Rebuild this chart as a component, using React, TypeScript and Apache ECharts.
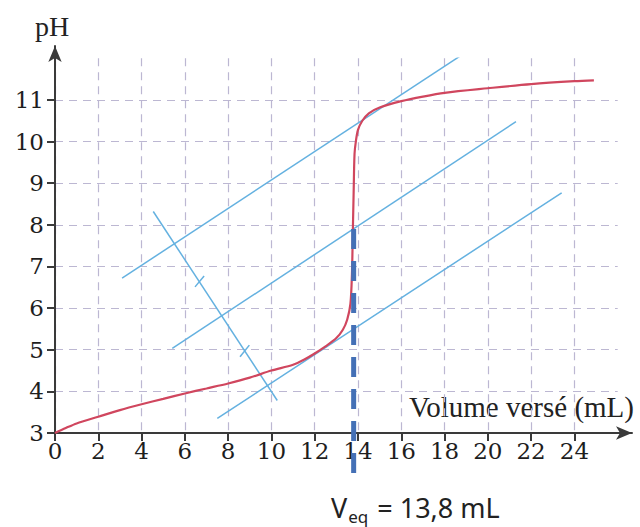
import React, { useEffect, useRef } from 'react';
import * as echarts from 'echarts';

// Titration curve (volume in mL, pH)
const volume = [0, 0.5, 1, 2, 3, 4, 5, 6, 7, 8, 9, 10, 11, 11.5, 12, 12.5, 13, 13.3, 13.5, 13.65, 13.72, 13.76, 13.8, 13.84, 13.9, 14.0, 14.2, 14.5, 15, 16, 17, 18, 20, 22, 24, 24.9];
const ph = [3.0, 3.12, 3.23, 3.39, 3.55, 3.69, 3.82, 3.95, 4.07, 4.19, 4.33, 4.5, 4.64, 4.76, 4.91, 5.08, 5.28, 5.48, 5.72, 6.1, 6.8, 7.8, 8.8, 9.7, 10.0, 10.28, 10.5, 10.68, 10.82, 10.97, 11.08, 11.17, 11.28, 11.38, 11.45, 11.47];

// Parallel tangents method
const tangentTop = [[3.1, 6.72], [19.0, 12.15]];
const tangentMiddle = [[5.42, 5.03], [21.3, 10.48]];
const tangentBottom = [[7.5, 3.35], [23.41, 8.77]];
const perpendicular = [[4.54, 8.32], [10.27, 3.78]];
const midMarkUpper = [[6.47, 6.51], [6.89, 6.77]];
const midMarkLower = [[8.55, 4.83], [8.98, 5.11]];

// Equivalence
const vEq = 13.8;
const eqLine = [[vEq, 7.9], [vEq, 1.8]];

const xTicks = [0, 2, 4, 6, 8, 10, 12, 14, 16, 18, 20, 22, 24];
const yTicks = [3, 4, 5, 6, 7, 8, 9, 10, 11];

const SERIF = 'Liberation Serif, DejaVu Serif, serif';
const TICK_FONT = 'DejaVu Serif, serif';
const SANS = 'Noto Sans, sans-serif';
const AXIS = '#3a3a3a';
const GRID = '#bcb7d2';
const BLUE = '#64b1e0';

export default function App() {
  const ref = useRef<HTMLDivElement>(null);

  useEffect(() => {
    document.body.style.margin = '0';
    const chart = echarts.init(ref.current!, null, { renderer: 'svg' });
    const curve = volume.map((v, i) => [v, ph[i]]);
    const blueLine = (name: string, data: number[][]) => ({
      name,
      type: 'line',
      xAxisIndex: 0,
      yAxisIndex: 0,
      data,
      showSymbol: false,
      symbol: 'none',
      lineStyle: { color: BLUE, width: 1.5 },
      z: 3,
    });
    const tickLabel = { fontFamily: TICK_FONT, fontSize: 23, color: '#1e1e1e' };
    chart.setOption({
      animation: false,
      grid: [
        { left: 55, right: 22.3, top: 58.3, bottom: 94 },
        { left: 55, right: 8, top: 46, bottom: 94 },
      ],
      xAxis: [
        {
          type: 'value',
          gridIndex: 0,
          min: 0,
          max: 26,
          interval: 2,
          axisLine: { show: false },
          axisTick: { show: true, customValues: xTicks, length: 8, lineStyle: { color: AXIS, width: 2 } },
          axisLabel: {
            ...tickLabel,
            margin: 6,
            formatter: (v: number) => (xTicks.includes(v) ? String(v) : ''),
          },
          splitLine: { show: true, lineStyle: { color: GRID, type: [8, 6], width: 1.2 } },
        },
        {
          type: 'value',
          gridIndex: 1,
          min: 0,
          max: 1,
          axisLine: { show: true, symbol: ['none', 'arrow'], symbolSize: [10, 16], lineStyle: { color: AXIS, width: 2 } },
          axisTick: { show: false },
          axisLabel: { show: false },
          splitLine: { show: false },
        },
      ],
      yAxis: [
        {
          type: 'value',
          gridIndex: 0,
          min: 3,
          max: 12,
          interval: 1,
          axisLine: { show: false },
          axisTick: { show: true, customValues: yTicks, length: 8, lineStyle: { color: AXIS, width: 2 } },
          axisLabel: {
            ...tickLabel,
            margin: 11,
            formatter: (v: number) => (yTicks.includes(v) ? String(v) : ''),
          },
          splitLine: { show: true, lineStyle: { color: GRID, type: [8, 6], width: 1.2 } },
        },
        {
          type: 'value',
          gridIndex: 1,
          min: 0,
          max: 1,
          axisLine: { show: true, symbol: ['none', 'arrow'], symbolSize: [10, 16], lineStyle: { color: AXIS, width: 2 } },
          axisTick: { show: false },
          axisLabel: { show: false },
          splitLine: { show: false },
        },
      ],
      series: [
        blueLine('tangentTop', tangentTop),
        blueLine('tangentMiddle', tangentMiddle),
        blueLine('tangentBottom', tangentBottom),
        blueLine('perpendicular', perpendicular),
        blueLine('midMarkUpper', midMarkUpper),
        blueLine('midMarkLower', midMarkLower),
        {
          name: 'pH',
          type: 'line',
          xAxisIndex: 0,
          yAxisIndex: 0,
          data: curve,
          smooth: 0.3,
          showSymbol: false,
          symbol: 'none',
          lineStyle: { color: '#d0465e', width: 2.2 },
          z: 4,
        },
        {
          name: 'Veq',
          type: 'line',
          xAxisIndex: 0,
          yAxisIndex: 0,
          data: eqLine,
          clip: false,
          showSymbol: false,
          symbol: 'none',
          lineStyle: { color: '#4470b6', width: 5, type: [20, 12] },
          z: 5,
        },
      ],
      graphic: [
        {
          type: 'text',
          left: 35,
          top: 12,
          style: { text: 'pH', font: `28px ${SERIF}`, fill: '#222' },
        },
        {
          type: 'text',
          left: 409,
          top: 392,
          style: { text: 'Volume versé (mL)', font: `29px ${SERIF}`, fill: '#222' },
        },
        {
          type: 'text',
          left: 331,
          top: 494,
          style: {
            text: '{v|V}{s|eq}{v| = 13,8 mL}',
            rich: {
              v: { fontFamily: SANS, fontSize: 27, fill: '#222', verticalAlign: 'bottom' },
              s: { fontFamily: SANS, fontSize: 17, fill: '#222', verticalAlign: 'bottom', padding: [0, 2, -4, 1] },
            },
          },
        },
      ],
    });
    return () => chart.dispose();
  }, []);

  return <div ref={ref} style={{ width: 640, height: 527 }} />;
}
